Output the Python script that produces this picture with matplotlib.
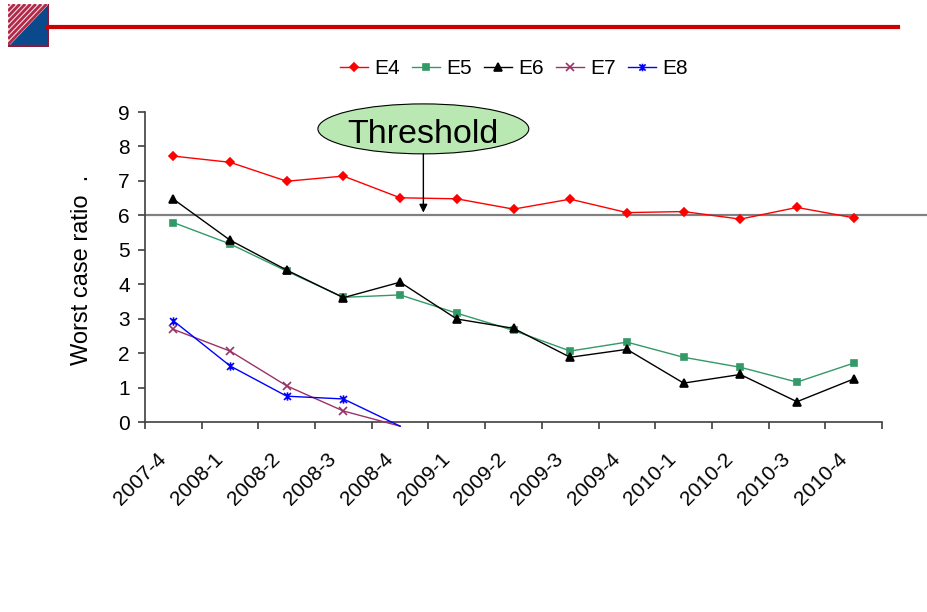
import numpy as np
import matplotlib
matplotlib.use("Agg")
import matplotlib.pyplot as plt
from matplotlib.patches import Ellipse, Polygon
from matplotlib.lines import Line2D
from matplotlib.path import Path
from matplotlib.transforms import ScaledTranslation

plt.rcParams['font.family'] = ['Liberation Sans', 'DejaVu Sans']

quarters = ['2007-4', '2008-1', '2008-2', '2008-3', '2008-4', '2009-1', '2009-2',
            '2009-3', '2009-4', '2010-1', '2010-2', '2010-3', '2010-4']
e4 = [7.72, 7.54, 6.99, 7.14, 6.51, 6.48, 6.18, 6.47, 6.08, 6.11, 5.89, 6.23, 5.93]
e5 = [5.79, 5.17, 4.38, 3.62, 3.69, 3.16, 2.66, 2.06, 2.32, 1.88, 1.59, 1.16, 1.71]
e6 = [6.47, 5.28, 4.41, 3.61, 4.06, 2.99, 2.72, 1.88, 2.11, 1.13, 1.38, 0.59, 1.25]
e7 = [2.69, 2.06, 1.05, 0.32, -0.12]
e8 = [2.94, 1.63, 0.75, 0.67, -0.12]
threshold = 6

# Excel-style asterisk marker: an x with a vertical bar through it
star = Path([(-1, -1), (1, 1), (-1, 1), (1, -1), (0, -1.2), (0, 1.2)],
            [Path.MOVETO, Path.LINETO, Path.MOVETO, Path.LINETO, Path.MOVETO, Path.LINETO])

series = [
    ('E4', e4, '#FF0000', 'D', 4.5),
    ('E5', e5, '#339966', 's', 5),
    ('E6', e6, '#000000', '^', 6),
    ('E7', e7, '#993366', 'x', 6),
    ('E8', e8, '#0000FF', star, 6),
]

W, H = 927, 612
fig = plt.figure(figsize=(W / 100, H / 100), dpi=100)
ax = fig.add_axes([145 / W, 1 - 427.2 / H, 737 / W, 315.2 / H])

# spines first: moving the bottom spine resets the ticks
for s in ['top', 'right']:
    ax.spines[s].set_visible(False)
ax.spines['bottom'].set_position(('data', 0))
ax.spines['left'].set_bounds(0, 9)
for s in ['bottom', 'left']:
    ax.spines[s].set_color('#404040')
    ax.spines[s].set_linewidth(1.2)

x = np.arange(len(quarters))
handles = []
for name, vals, color, marker, ms in series:
    n = len(vals)
    line, = ax.plot(x[:n], vals, color=color, lw=1, marker=marker, ms=ms,
                    mfc=color, mec=color, mew=1.2, label=name,
                    markevery=slice(0, 4) if n < len(quarters) else None, zorder=3)
    handles.append(line)

# threshold line runs past the plot area to the page edge
ax.plot([0, (W - 145) / 737], [threshold, threshold], transform=ax.get_yaxis_transform(),
        color='#808080', lw=1.6, clip_on=False, zorder=2)

ax.set_xlim(-0.5, len(quarters) - 0.5)
ax.set_ylim(-0.15, 9)
ax.set_yticks(range(10))
ax.set_xticks(x)
ax.set_xticklabels(quarters)
ax.set_xticks(np.arange(-0.5, len(quarters)), minor=True)
ax.tick_params(axis='x', which='major', length=0, pad=19.5, labelsize=15)
ax.tick_params(axis='x', which='minor', length=5, width=1.2, color='#404040', direction='out')
ax.tick_params(axis='y', length=5, width=1.2, color='#404040', pad=6, labelsize=15)

offset = ScaledTranslation(-12 / 72, 0, fig.dpi_scale_trans)
for lab in ax.get_xticklabels():
    lab.set_rotation(45)
    lab.set_ha('right')
    lab.set_va('top')
    lab.set_rotation_mode('anchor')
    lab.set_transform(lab.get_transform() + offset)

ax.set_ylabel('Worst case ratio  .', fontsize=17, labelpad=18)

# callout bubble with arrow down to the threshold
bubble = Ellipse((4.41, 8.51), 3.72, 1.45, facecolor='#B9E8B2', edgecolor='black',
                 lw=0.8, clip_on=False, zorder=4)
ax.add_patch(bubble)
ax.text(4.41, 8.11, 'Threshold', fontsize=24.5, ha='center', va='baseline', zorder=5)
ax.annotate('', xy=(4.41, threshold + 0.08), xytext=(4.41, 7.785),
            arrowprops=dict(arrowstyle='-|>', color='black', lw=1, mutation_scale=12,
                            shrinkA=0, shrinkB=0), zorder=4)

fig.legend(handles=handles, loc='center', bbox_to_anchor=(514 / W, 1 - 69 / H), ncol=5,
           frameon=False, fontsize=15, handlelength=1.35, handletextpad=0.32,
           columnspacing=0.56, markerscale=0.9)

# header: logo square and red rule
logo = fig.add_axes([8 / W, 1 - 47 / H, 41 / W, 43 / H])
logo.set_xlim(0, 1)
logo.set_ylim(0, 1)
logo.axis('off')
logo.add_patch(Polygon([(0, 1), (1, 1), (0, 0)], closed=True, facecolor='#F4E4E8', edgecolor='none'))
for c in np.arange(0.06, 1.0, 0.13):
    logo.plot([0, 1 - c], [c, 1], color='#B22848', lw=2, solid_capstyle='butt')
logo.add_patch(Polygon([(0, 0), (1, 0), (1, 1)], closed=True, facecolor='#0A4A8C', edgecolor='none'))
logo.plot([0, 1, 1], [0.02, 0.02, 1], color='#8B1A3A', lw=2.5)
fig.add_artist(Line2D([48 / W, 898 / W], [1 - 27 / H] * 2, color='#CC0000', lw=3))

fig.savefig('out.png', dpi=100)
